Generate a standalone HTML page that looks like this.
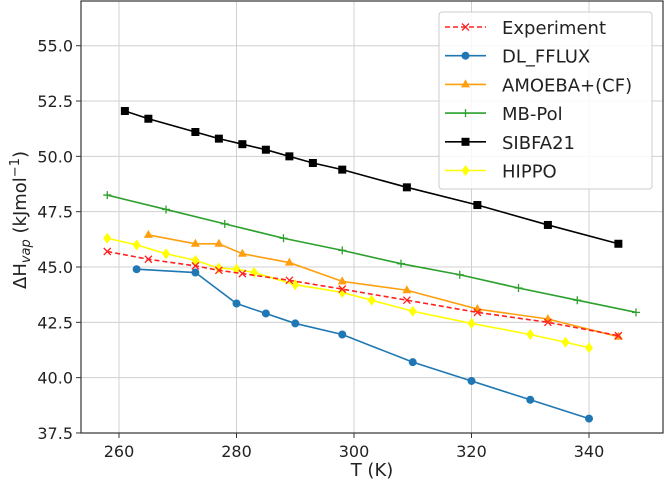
<!DOCTYPE html>
<html><head><meta charset="utf-8"><style>
body{margin:0;background:#fff;}
svg text{font-family:"DejaVu Sans","Liberation Sans",sans-serif;fill:#222;}
</style></head><body>
<svg id="chart" width="664" height="482" xmlns="http://www.w3.org/2000/svg">
<g id="grid"></g>
<g id="axes"></g>
<g id="series"></g>
<rect x="81" y="1" width="582" height="432" fill="none" stroke="#333" stroke-width="1.2"/>
<text x="372" y="476" font-size="18" text-anchor="middle">T (K)</text>
<text transform="translate(26,220) rotate(-90)" font-size="18" text-anchor="middle">ΔH<tspan font-size="13" font-style="italic" dy="4">vap</tspan><tspan dy="-4"> (kJmol</tspan><tspan font-size="13" dy="-7">−1</tspan><tspan dy="7">)</tspan></text>
<g id="legend"></g>
</svg>
<script>
const xTicks=[260,280,300,320,340];
const yTicks=[37.5,40.0,42.5,45.0,47.5,50.0,52.5,55.0];
const seriesNames=["Experiment","DL_FFLUX","AMOEBA+(CF)","MB-Pol","SIBFA21","HIPPO"];
const expT=[258,265,273,277,281,289,298,309,321,333,345];
const expH=[45.7,45.35,45.05,44.85,44.7,44.4,44.0,43.5,42.95,42.5,41.9];
const dlT=[263,273,280,285,290,298,310,320,330,340];
const dlH=[44.9,44.75,43.35,42.9,42.45,41.95,40.7,39.85,39.0,38.15];
const amT=[265,273,277,281,289,298,309,321,333,345];
const amH=[46.45,46.05,46.05,45.6,45.2,44.35,43.95,43.1,42.65,41.85];
const mbT=[258,268,278,288,298,308,318,328,338,348];
const mbH=[48.25,47.6,46.95,46.3,45.75,45.15,44.65,44.05,43.5,42.95];
const sbT=[261,265,273,277,281,285,289,293,298,309,321,333,345];
const sbH=[52.05,51.7,51.1,50.8,50.55,50.3,50.0,49.7,49.4,48.6,47.8,46.9,46.05];
const hpT=[258,263,268,273,277,280,283,290,298,303,310,320,330,336,340];
const hpH=[46.3,46.0,45.6,45.3,44.95,44.9,44.75,44.2,43.85,43.5,43.0,42.45,41.95,41.6,41.35];

const NS="http://www.w3.org/2000/svg";
const xs=t=>119+(t-260)*5.875;
const ys=v=>45.7+(55-v)*22.13;
function mk(tag,attrs,parent){const e=document.createElementNS(NS,tag);for(const k in attrs)e.setAttribute(k,attrs[k]);parent.appendChild(e);return e;}
const grid=document.getElementById('grid'),axes=document.getElementById('axes'),ser=document.getElementById('series'),leg=document.getElementById('legend');
xTicks.forEach(t=>{
 const l=mk('line',{x1:xs(t),x2:xs(t),y1:1,y2:433,stroke:'#d0d0d0','stroke-width':1},grid);
 
 
 const tk=mk('line',{x1:xs(t),x2:xs(t),y1:433,y2:438,stroke:'#333'},axes);
 
 
 const tx=mk('text',{x:xs(t),y:457,'font-size':16,'text-anchor':'middle'},axes);tx.textContent=t;
 
 
});
yTicks.forEach(v=>{
 const l=mk('line',{x1:81,x2:663,y1:ys(v),y2:ys(v),stroke:'#d0d0d0','stroke-width':1},grid);
 
 
 const tk=mk('line',{x1:76,x2:81,y1:ys(v),y2:ys(v),stroke:'#333'},axes);
 
 
 const tx=mk('text',{x:73,y:ys(v)+6,'font-size':16,'text-anchor':'end'},axes);tx.textContent=v.toFixed(1);
 
 
});
function marker(type,x,y,c,g){
 let e;
 if(type==='x'){e=mk('path',{d:`M${x-3.5} ${y-3.5}L${x+3.5} ${y+3.5}M${x-3.5} ${y+3.5}L${x+3.5} ${y-3.5}`,stroke:c,'stroke-width':1.3,fill:'none'},g);}
 else if(type==='o'){e=mk('circle',{cx:x,cy:y,r:4,fill:c},g);}
 else if(type==='^'){e=mk('path',{d:`M${x} ${y-5}L${x+4.5} ${y+3}L${x-4.5} ${y+3}Z`,fill:c},g);}
 else if(type==='+'){e=mk('path',{d:`M${x-4} ${y}L${x+4} ${y}M${x} ${y-4}L${x} ${y+4}`,stroke:c,'stroke-width':1.3},g);}
 else if(type==='s'){e=mk('rect',{x:x-4,y:y-4,width:8,height:8,fill:c},g);}
 else if(type==='d'){e=mk('path',{d:`M${x} ${y-5.5}L${x+4} ${y}L${x} ${y+5.5}L${x-4} ${y}Z`,fill:c},g);}
 
 
}
const defs=[
 [expT,expH,'#ff2020','x','5,3','series-experiment'],
 [dlT,dlH,'#1f77b4','o',null,'series-dl-fflux'],
 [amT,amH,'#ff9f0e','^',null,'series-amoeba'],
 [mbT,mbH,'#2ca02c','+',null,'series-mb-pol'],
 [sbT,sbH,'#000000','s',null,'series-sibfa21'],
 [hpT,hpH,'#ffff00','d',null,'series-hippo']];
const order=[4,3,2,1,5,0];
order.forEach(i=>{
 const [T,H,c,m,dash,name]=defs[i];
 const g=mk('g',{},ser);
 
 
 const p=mk('polyline',{points:T.map((t,j)=>xs(t)+','+ys(H[j])).join(' '),fill:'none',stroke:c,'stroke-width':1.6},g);
 if(dash)p.setAttribute('stroke-dasharray',dash);
 
 
 T.forEach((t,j)=>marker(m,xs(t),ys(H[j]),c,g));
});
const box=mk('rect',{x:439,y:12,width:213,height:177,rx:3,fill:'#fff','fill-opacity':0.85,stroke:'#ccc'},leg);


defs.forEach((d,i)=>{
 const y=27+i*28.7;
 const g=mk('g',{},leg);
 
 
 const l=mk('line',{x1:445,x2:486,y1:y,y2:y,stroke:d[2],'stroke-width':1.6},g);
 if(d[4])l.setAttribute('stroke-dasharray',d[4]);
 marker(d[3],465.5,y,d[2],g);
 const t=mk('text',{x:502,y:y+7,'font-size':18},g);t.textContent=seriesNames[i];
 
 
});
</script>
</body></html>
